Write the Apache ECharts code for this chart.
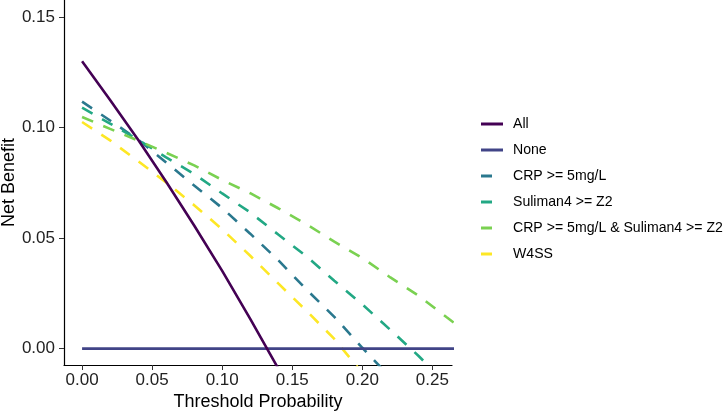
<!DOCTYPE html>
<html lang="en">
	<head>
		<meta charset="UTF-8">
		<title>Decision curve</title>
		<style type="text/css">
			html,
			body,
			#main {
				padding: 0;
				margin: 0;
				overflow: hidden;
				background-color: #fff;
				width: 724px;
				height: 412px;
			}
		</style>
	</head>
	<body>
		<div id="main"></div>
		<script type="text/javascript" src="https://cdn.jsdelivr.net/npm/echarts@6/dist/echarts.min.js"></script>
		<script type="text/javascript">
			// values
			const xTicks = [0, 0.05, 0.10, 0.15, 0.20, 0.25];
			const yTicks = [0, 0.05, 0.10, 0.15];

			const allX = [0, 0.02, 0.04, 0.06, 0.08, 0.10, 0.12, 0.14];
			const allY = [0.130, 0.1125, 0.0945, 0.0755, 0.0557, 0.0352, 0.0135, -0.0090];

			const noneX = [0, 0.27];
			const noneY = [0, 0];

			const crpX = [0, 0.02, 0.04, 0.06, 0.08, 0.10, 0.12, 0.14, 0.16, 0.18, 0.20, 0.22];
			const crpY = [0.1117, 0.1032, 0.0945, 0.0842, 0.0738, 0.0636, 0.0520, 0.0400, 0.0268, 0.0144, 0.0004, -0.0130];

			const sulX = [0, 0.02, 0.04, 0.06, 0.08, 0.10, 0.12, 0.14, 0.16, 0.18, 0.20, 0.22, 0.24, 0.26];
			const sulY = [0.1090, 0.1018, 0.0945, 0.0865, 0.0790, 0.0702, 0.0616, 0.0516, 0.0418, 0.0307, 0.0200, 0.0085, -0.0032, -0.0160];

			const bothX = [0, 0.02, 0.04, 0.06, 0.08, 0.10, 0.12, 0.14, 0.16, 0.18, 0.20, 0.22, 0.24, 0.26, 0.27];
			const bothY = [0.1048, 0.0994, 0.0941, 0.0886, 0.0829, 0.0763, 0.0703, 0.0635, 0.0563, 0.0484, 0.0410, 0.0322, 0.0240, 0.0143, 0.0095];

			const w4ssX = [0, 0.02, 0.04, 0.06, 0.08, 0.10, 0.12, 0.14, 0.16, 0.18, 0.20];
			const w4ssY = [0.1025, 0.0942, 0.0848, 0.0752, 0.0649, 0.0540, 0.0420, 0.0295, 0.0172, 0.0044, -0.0110];

			const names = ['All', 'None', 'CRP >= 5mg/L', 'Suliman4 >= Z2', 'CRP >= 5mg/L & Suliman4 >= Z2', 'W4SS'];
			const colors = ['#440154', '#414487', '#2A788E', '#22A884', '#7AD151', '#FDE725'];

			function pairs (xs, ys) {
				return xs.map(function (x, i) { return [x, ys[i]]; });
			}

			function lineSeries (idx, xs, ys, dashed) {
				return {
					name: names[idx],
					type: 'line',
					data: pairs(xs, ys),
					showSymbol: false,
					symbol: 'none',
					clip: true,
					z: dashed ? 2 : 3,
					itemStyle: { color: colors[idx] },
					lineStyle: {
						color: colors[idx],
						width: 2.6,
						type: dashed ? [12, 11] : 'solid',
						cap: 'butt'
					}
				};
			}

			const font = 'Liberation Sans, Arial, sans-serif';
			const fmt = function (v) { return v.toFixed(2); };

			const uiChart = echarts.init(document.getElementById('main'), null, { renderer: 'canvas' });
			uiChart.setOption({
				animation: false,
				backgroundColor: '#fff',
				grid: { left: 64, right: 272, top: 0, bottom: 47, containLabel: false, outerBoundsMode: 'none' },
				xAxis: {
					type: 'value',
					min: -0.0129,
					max: 0.264,
					name: 'Threshold Probability',
					nameLocation: 'middle',
					nameGap: 28,
					nameMoveOverlap: false,
					nameTextStyle: { fontFamily: font, fontSize: 18, color: '#000' },
					axisLine: { onZero: false, lineStyle: { color: '#000', width: 1.2 } },
					axisTick: { show: true, length: 5, lineStyle: { color: '#333' }, customValues: xTicks },
					axisLabel: { margin: 7, fontFamily: font, fontSize: 17, color: '#222', formatter: fmt, customValues: xTicks },
					splitLine: { show: false }
				},
				yAxis: {
					type: 'value',
					min: -0.0074,
					max: 0.1577,
					name: 'Net Benefit',
					nameLocation: 'middle',
					nameGap: 46,
					nameMoveOverlap: false,
					nameTextStyle: { fontFamily: font, fontSize: 18, color: '#000' },
					axisLine: { show: true, onZero: false, lineStyle: { color: '#000', width: 1.2 } },
					axisTick: { show: true, length: 5, lineStyle: { color: '#333' }, customValues: yTicks },
					axisLabel: { margin: 9, fontFamily: font, fontSize: 17, color: '#222', formatter: fmt, customValues: yTicks },
					splitLine: { show: false }
				},
				legend: [
					{
						orient: 'vertical',
						left: 476,
						top: 111,
						icon: 'rect',
						itemWidth: 22,
						itemHeight: 3,
						itemGap: 10,
						data: [names[0], names[1]],
						textStyle: { fontFamily: font, fontSize: 14.1, color: '#000', lineHeight: 16, padding: [0, 0, 0, 5] }
					},
					{
						orient: 'vertical',
						left: 476,
						top: 163,
						icon: 'rect',
						itemWidth: 11,
						itemHeight: 3,
						itemGap: 10,
						data: [names[2], names[3], names[4], names[5]],
						textStyle: { fontFamily: font, fontSize: 14.1, color: '#000', lineHeight: 16, padding: [0, 0, 0, 16] }
					}
				],
				series: [
					lineSeries(1, noneX, noneY, false),
					lineSeries(2, crpX, crpY, true),
					lineSeries(3, sulX, sulY, true),
					lineSeries(4, bothX, bothY, true),
					lineSeries(5, w4ssX, w4ssY, true),
					lineSeries(0, allX, allY, false)
				]
			});
		</script>
	</body>
</html>
